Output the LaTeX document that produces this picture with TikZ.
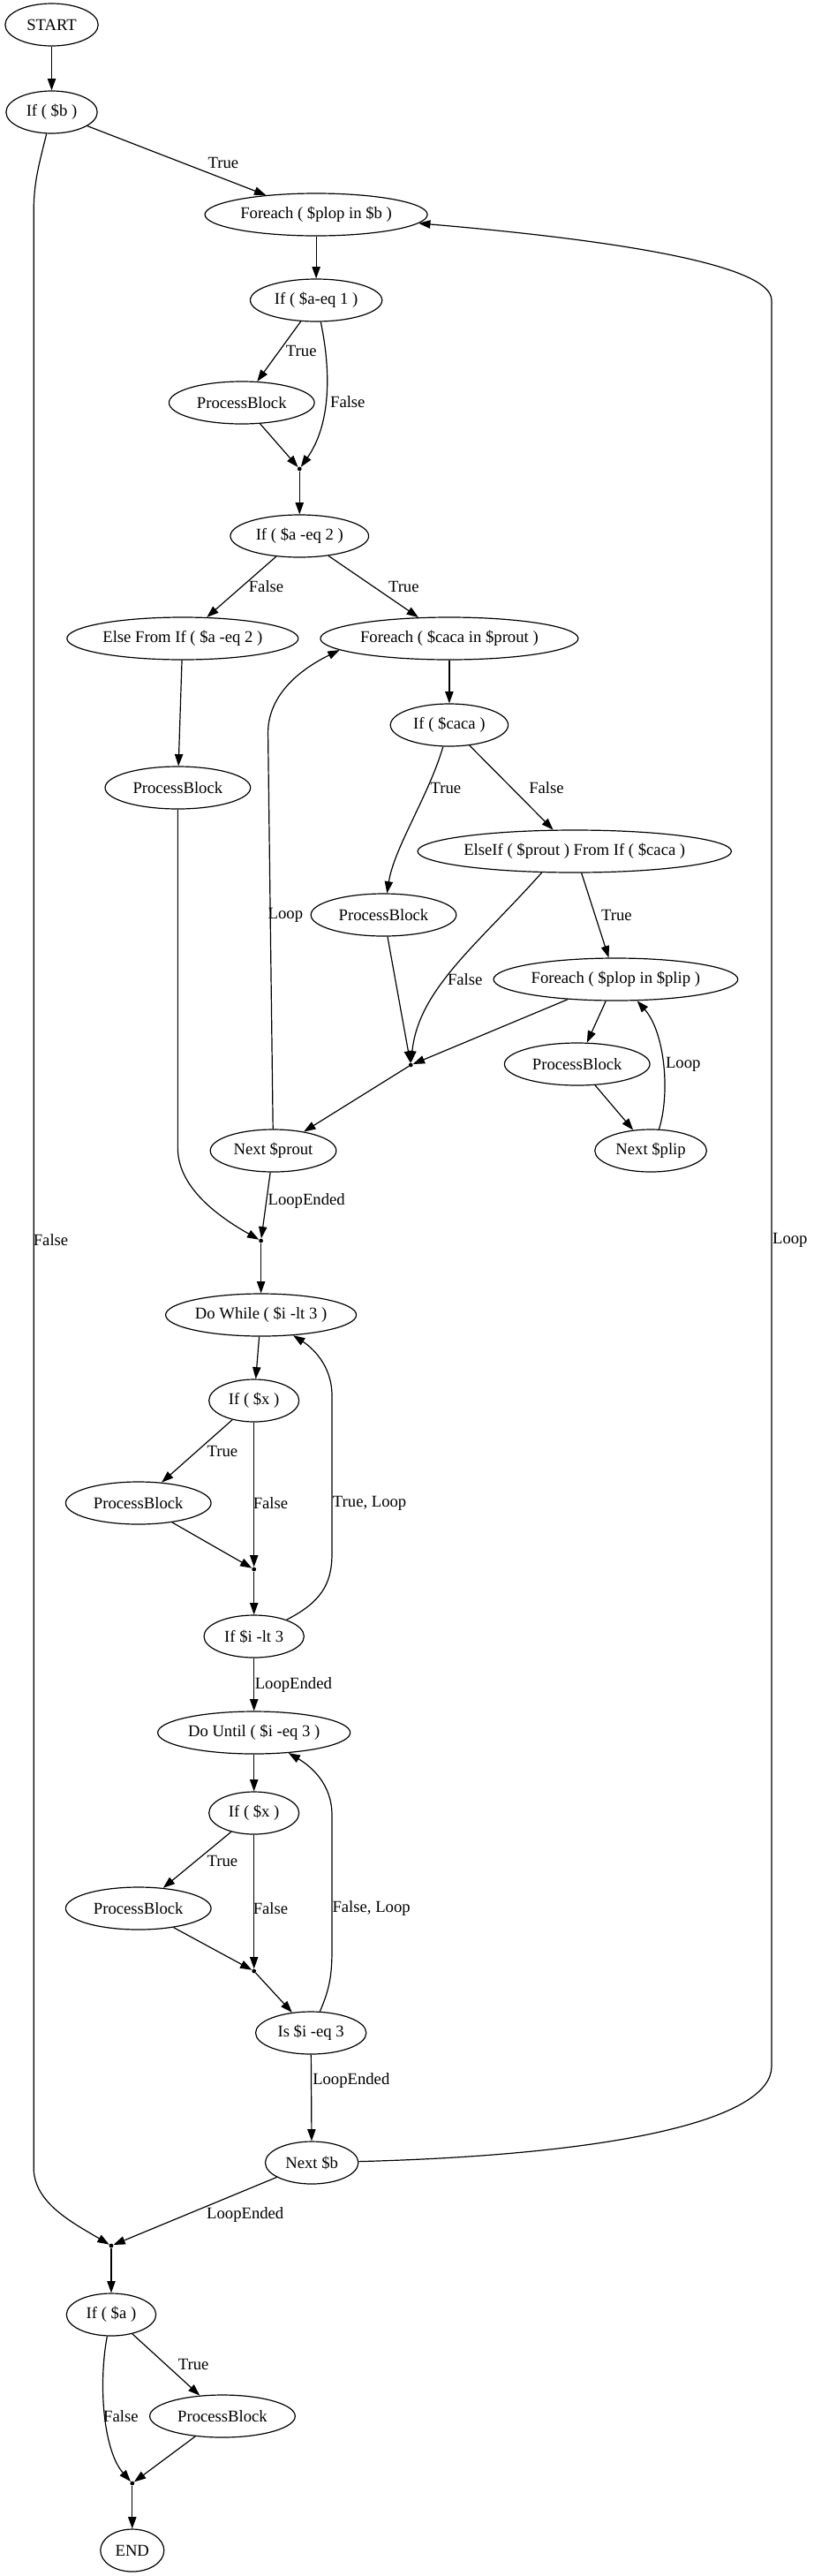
\documentclass[tikz,border=0pt]{standalone}
\usepackage{fontspec}
\setmainfont{Liberation Serif}
\usepackage{tikz}
\usetikzlibrary{arrows.meta,shapes.geometric}

\begin{document}
\begin{tikzpicture}[x=0.744pt,y=-0.75pt,
    blk/.style={draw,ellipse,line width=0.9pt,inner sep=0pt,minimum height=36pt,minimum width=#1,font=\fontsize{14}{16}\selectfont},
    blk/.default=54pt,
    joint/.style={circle,fill,inner sep=0pt,minimum size=3.6pt},
    flow/.style={-{Triangle[length=10pt,width=7pt]},line width=0.9pt},
    lbl/.style={inner sep=0pt,font=\fontsize{14}{16}\selectfont}]
    \useasboundingbox (0,0) rectangle (929.4,2917);

    % Outer block
    \node[blk=79pt] (start) at (59,28) {START};
    \node[blk=77.5pt] (ifb) at (59,127) {If ( \$b )};
    \node[blk=189pt] (fpb) at (361,243) {Foreach ( \$plop in \$b )};
    \node[blk=112pt] (ifa1) at (361,340) {If ( \$a-eq 1 )};
    \node[blk=123.5pt] (pb1) at (276,456) {ProcessBlock};
    \node[joint] (j1) at (342,531) {};
    \node[blk=117.5pt] (ifa2) at (342,607) {If ( \$a -eq 2 )};
    \node[blk=196.5pt] (els) at (208.5,723) {Else From If ( \$a -eq 2 )};
    \node[blk=219pt] (fcaca) at (513,723) {Foreach ( \$caca in \$prout )};
    \node[blk=123.5pt] (pb2) at (203,892) {ProcessBlock};
    \node[blk=100pt] (ifcaca) at (513,821) {If ( \$caca )};
    \node[blk=266.5pt] (elseif) at (656,964) {ElseIf ( \$prout ) From If ( \$caca )};
    \node[blk=123.5pt] (pb3) at (438,1036) {ProcessBlock};
    \node[blk=207.5pt] (fplip) at (703,1109) {Foreach ( \$plop in \$plip )};
    \node[joint] (j2) at (469,1206) {};
    \node[blk=123.5pt] (pb4) at (659,1205) {ProcessBlock};
    \node[blk=107pt] (nprout) at (312,1303) {Next \$prout};
    \node[blk=95pt] (nplip) at (743,1303) {Next \$plip};
    \node[joint] (j3) at (298,1405) {};

    % Do While
    \node[blk=162pt] (dowhile) at (298,1489) {Do While ( \$i -lt 3 )};
    \node[blk=76.5pt] (ifx1) at (290,1586) {If ( \$x )};
    \node[blk=123.5pt] (pb5) at (158,1702) {ProcessBlock};
    \node[joint] (j4) at (290,1777) {};
    \node[blk=85pt] (ifi) at (290,1853) {If \$i -lt 3};

    % Do Until
    \node[blk=163.5pt] (dountil) at (290,1962) {Do Until ( \$i -eq 3 )};
    \node[blk=76.5pt] (ifx2) at (290,2053) {If ( \$x )};
    \node[blk=123.5pt] (pb6) at (158,2161) {ProcessBlock};
    \node[joint] (j5) at (290,2232) {};
    \node[blk=94pt] (isi) at (355,2302) {Is \$i -eq 3};
    \node[blk=79pt] (nextb) at (356,2449) {Next \$b};
    \node[joint] (j6) at (127,2543) {};

    % Tail
    \node[blk=76pt] (ifa) at (127,2621) {If ( \$a )};
    \node[blk=123.5pt] (pb7) at (254,2736) {ProcessBlock};
    \node[joint] (j7) at (151,2812) {};
    \node[blk] (stop) at (151,2888) {END};

    % Connectors
    \draw[flow] (start) -- (ifb);
    \draw[flow] (ifb) -- (fpb);
    \draw[flow] (ifb) .. controls (45,185) and (38.5,205) .. (38.5,240) -- (38.5,2455) .. controls (38.5,2495) and (85,2518) .. (j6);
    \draw[flow] (fpb) -- (ifa1);
    \draw[flow] (ifa1) -- (pb1);
    \draw[flow] (ifa1) .. controls (378,420) and (378,480) .. (j1);
    \draw[flow] (pb1) -- (j1);
    \draw[flow] (j1) -- (ifa2);
    \draw[flow] (ifa2) -- (els);
    \draw[flow] (ifa2) -- (fcaca);
    \draw[flow] (els) -- (pb2);
    \draw[flow] (fcaca) -- (ifcaca);
    \draw[flow] (ifcaca) .. controls (490,900) and (450,960) .. (pb3);
    \draw[flow] (ifcaca) -- (elseif);
    \draw[flow] (elseif) -- (fplip);
    \draw[flow] (elseif.213) .. controls (545,1070) and (478,1120) .. (j2);
    \draw[flow] (pb3) -- (j2);
    \draw[flow] (fplip) -- (j2);
    \draw[flow] (fplip) -- (pb4);
    \draw[flow] (pb4) -- (nplip);
    \draw[flow] (nplip.69) .. controls (765,1240) and (760,1170) .. (fplip.-45);
    \draw[flow] (j2) -- (nprout);
    \draw[flow] (nprout) -- (306,830) .. controls (306,780) and (355,752) .. (fcaca.186);
    \draw[flow] (nprout) -- (j3);
    \draw[flow] (pb2) -- (203,1300) .. controls (203,1345) and (250,1378) .. (j3);
    \draw[flow] (j3) -- (dowhile);
    \draw[flow] (dowhile) -- (ifx1);
    \draw[flow] (ifx1) -- (pb5);
    \draw[flow] (ifx1) -- (j4);
    \draw[flow] (pb5) -- (j4);
    \draw[flow] (j4) -- (ifi);
    \draw[flow] (ifi) .. controls (365,1815) and (379,1795) .. (379,1760) -- (379,1580) .. controls (379,1545) and (355,1525) .. (dowhile);
    \draw[flow] (ifi) -- (dountil);
    \draw[flow] (dountil) -- (ifx2);
    \draw[flow] (ifx2) -- (pb6);
    \draw[flow] (ifx2) -- (j5);
    \draw[flow] (pb6) -- (j5);
    \draw[flow] (j5) -- (isi);
    \draw[flow] (isi) .. controls (375,2255) and (379,2240) .. (379,2210) -- (379,2055) .. controls (379,2020) and (355,2000) .. (dountil);
    \draw[flow] (isi) -- (nextb);
    \draw[flow] (nextb) .. controls (705,2440) and (881,2400) .. (881,2340) -- (881,340) .. controls (881,300) and (705,272) .. (fpb);
    \draw[flow] (nextb) -- (j6);
    \draw[flow] (j6) -- (ifa);
    \draw[flow] (ifa) -- (pb7);
    \draw[flow] (ifa) .. controls (112,2700) and (118,2775) .. (j7);
    \draw[flow] (pb7) -- (j7);
    \draw[flow] (j7) -- (stop);

    % Edge labels
    \node[lbl] (lt1) at (255,184) {True};
    \node[lbl] (lt2) at (344,397) {True};
    \node[lbl] (lf1) at (397,455) {False};
    \node[lbl] (lf2) at (304,664) {False};
    \node[lbl] (lt3) at (461,664) {True};
    \node[lbl] (lt4) at (509,892) {True};
    \node[lbl] (lf3) at (624,892) {False};
    \node[lbl] (ll1) at (326,1036) {Loop};
    \node[lbl] (lt5) at (704,1036) {True};
    \node[lbl] (lf4) at (531,1109) {False};
    \node[lbl] (ll2) at (780,1205) {Loop};
    \node[lbl] (le1) at (350,1360) {LoopEnded};
    \node[lbl] (lf5) at (58,1404) {False};
    \node[lbl] (ll3) at (902,1404) {Loop};
    \node[lbl] (lt6) at (254,1643) {True};
    \node[lbl] (lf6) at (309,1702) {False};
    \node[lbl] (ltl) at (422,1702) {True, Loop};
    \node[lbl] (le2) at (335,1908) {LoopEnded};
    \node[lbl] (lt7) at (254,2107) {True};
    \node[lbl] (lf7) at (309,2161) {False};
    \node[lbl] (lfl) at (424,2161) {False, Loop};
    \node[lbl] (le3) at (401,2356) {LoopEnded};
    \node[lbl] (le4) at (280,2508) {LoopEnded};
    \node[lbl] (lt8) at (221,2677) {True};
    \node[lbl] (lf8) at (138,2736) {False};

\end{tikzpicture}
\end{document}
